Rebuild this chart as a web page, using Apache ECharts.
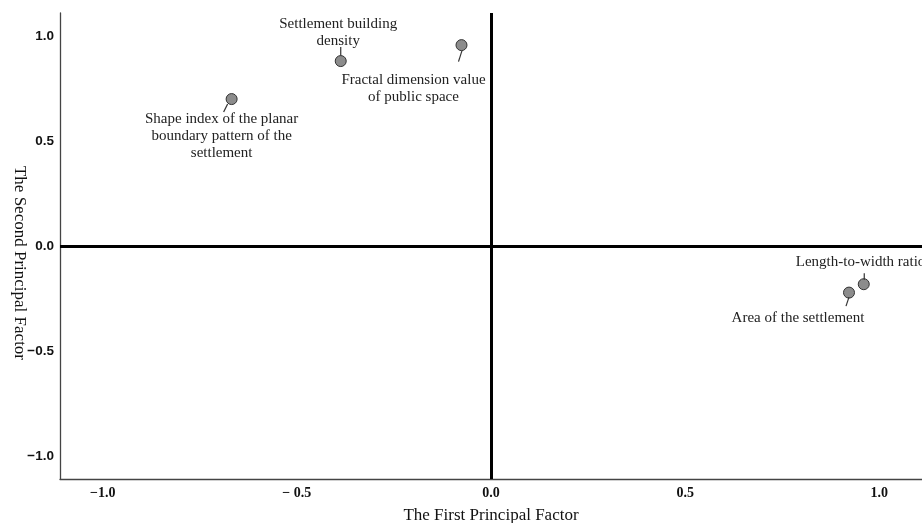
<!DOCTYPE html>
<html>
<head>
<meta charset="utf-8">
<script src="https://cdn.jsdelivr.net/npm/echarts@6/dist/echarts.min.js"></script>
<style>
  html, body { margin: 0; padding: 0; background: #fff; }
  #chart { width: 922px; height: 523px; }
</style>
</head>
<body>
<div id="chart"></div>
<script>
// ---- data ----
const pointNames = [
  'Shape index of the planar\nboundary pattern of the\nsettlement',
  'Settlement building\ndensity',
  'Fractal dimension value\nof public space',
  'Length-to-width ratio',
  'Area of the settlement'
];
const factor1 = [-0.668, -0.387, -0.076, 0.960, 0.922];
const factor2 = [0.700, 0.881, 0.957, -0.182, -0.222];
const xTickValues = [-1, -0.5, 0, 0.5, 1];
const xTickLabels = ['\u22121.0', '\u2212 0.5', '0.0', '0.5', '1.0'];
const yTickValues = [-1, -0.5, 0, 0.5, 1];
const yTickLabels = ['\u22121.0', '\u22120.5', '0.0', '0.5', '1.0'];
const xTitle = 'The First Principal Factor';
const yTitle = 'The Second Principal Factor';

// ---- label placement (pixel offsets from each point; styling only) ----
const labelPlacement = [
  { tx: -10, ty: 11.5, align: 'center', line: [-4, 5, -8, 13] },
  { tx: -2.5, ty: -45.5, align: 'center', line: [0, -14, 0, -5.5] },
  { tx: -48, ty: 26.5, align: 'center', line: [0.5, 5.5, -3, 16.5] },
  { tx: -68, ty: -31, align: 'left', line: [0.5, -11, 0.5, -4.5] },
  { tx: -51, ty: 17, align: 'center', line: [0, 4.5, -3, 13.5] }
];

const points = factor1.map((x, i) => [x, factor2[i]]);

const chart = echarts.init(document.getElementById('chart'), null, { renderer: 'canvas' });
const serif = '"Liberation Serif", "Times New Roman", serif';
const sans = '"Liberation Sans", Arial, sans-serif';

chart.setOption({
  animation: false,
  backgroundColor: '#ffffff',
  grid: { left: 60, right: 0, top: 13, bottom: 44, containLabel: false, outerBoundsMode: 'none' },
  graphic: [
    {
      type: 'text',
      x: 19, y: 263,
      rotation: -Math.PI / 2,
      silent: true,
      style: {
        text: yTitle,
        align: 'center',
        verticalAlign: 'middle',
        font: '17px ' + serif,
        fill: '#111'
      }
    }
  ],
  xAxis: {
    type: 'value',
    min: -1.11, max: 1.11,
    axisLine: { show: true, onZero: false, lineStyle: { color: '#444', width: 1.3 } },
    axisTick: { show: false },
    splitLine: { show: false },
    axisLabel: {
      customValues: xTickValues,
      formatter: v => xTickLabels[xTickValues.indexOf(Math.round(v * 10) / 10)],
      fontFamily: serif, fontWeight: 'bold', fontSize: 14, color: '#111', margin: 7
    },
    name: xTitle,
    nameLocation: 'middle',
    nameGap: 28,
    nameTextStyle: { fontFamily: serif, fontSize: 17, color: '#111' }
  },
  yAxis: {
    type: 'value',
    min: -1.11, max: 1.11,
    axisLine: { show: true, onZero: false, lineStyle: { color: '#444', width: 1.3 } },
    axisTick: { show: false },
    splitLine: { show: false },
    axisLabel: {
      customValues: yTickValues,
      formatter: v => yTickLabels[yTickValues.indexOf(Math.round(v * 10) / 10)],
      fontFamily: sans, fontWeight: 'bold', fontSize: 13.5, color: '#111', margin: 6
    }
  },
  series: [
    {
      type: 'scatter',
      data: points,
      symbol: 'circle',
      symbolSize: 11,
      itemStyle: { color: '#8c8c8c', borderColor: '#333', borderWidth: 1, opacity: 1 },
      z: 3,
      markLine: {
        silent: true,
        symbol: ['none', 'none'],
        label: { show: false },
        lineStyle: { color: '#000', width: 3, type: 'solid' },
        emphasis: { disabled: true },
        data: [{ xAxis: 0 }, { yAxis: 0 }]
      }
    },
    {
      type: 'custom',
      data: points,
      z: 4,
      silent: true,
      renderItem: function (params, api) {
        const i = params.dataIndex;
        const p = api.coord([api.value(0), api.value(1)]);
        const L = labelPlacement[i];
        return {
          type: 'group',
          children: [
            {
              type: 'line',
              shape: { x1: p[0] + L.line[0], y1: p[1] + L.line[1], x2: p[0] + L.line[2], y2: p[1] + L.line[3] },
              style: { stroke: '#333', lineWidth: 1.2 }
            },
            {
              type: 'text',
              style: {
                text: pointNames[i],
                x: p[0] + L.tx,
                y: p[1] + L.ty,
                align: L.align,
                verticalAlign: 'top',
                font: '15px ' + serif,
                lineHeight: 17,
                fill: '#222'
              }
            }
          ]
        };
      }
    }
  ]
});
</script>
</body>
</html>
